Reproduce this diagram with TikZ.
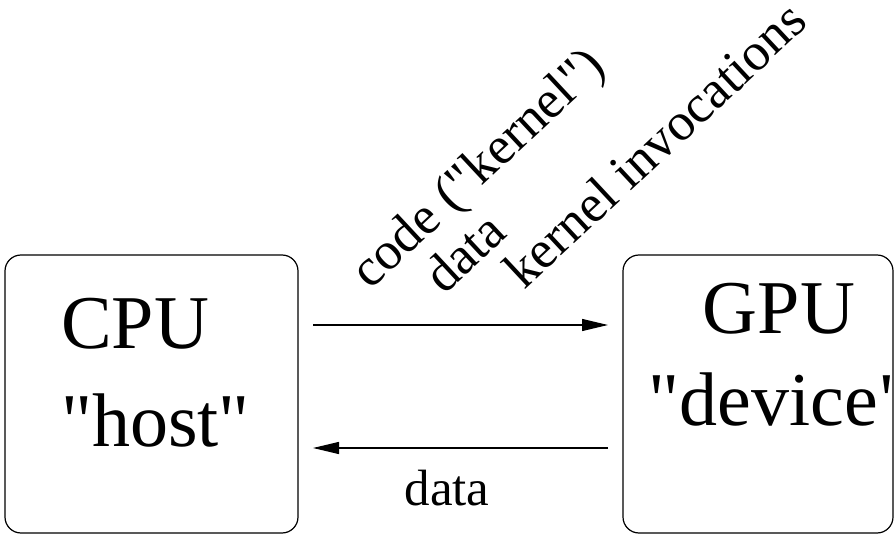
\documentclass[tikz,border=0pt]{standalone}
\usepackage{fontspec}
\setmainfont{Liberation Serif}[Ligatures=TeXOff]
\usetikzlibrary{arrows.meta}

\begin{document}
\begin{tikzpicture}[x=1pt, y=1pt,
    unit/.style={draw, line width=1.2pt, rounded corners=16pt, inner sep=0pt},
    big/.style={font=\fontsize{76}{84}\selectfont, inner sep=0pt},
    small/.style={font=\fontsize{51}{60}\selectfont, inner sep=0pt},
    slanted/.style={font=\fontsize{53}{60}\selectfont, inner sep=0pt, rotate=43, anchor=base west},
    link/.style={line width=1.2pt, -{Triangle[length=26pt, width=12pt]}}]
    \useasboundingbox (0,0) rectangle (894,536);
    \node[unit, minimum width=293pt, minimum height=278pt] (cpu) at (151.5,142) {};
    \node[unit, minimum width=270pt, minimum height=278pt] (gpu) at (758,142) {};
    \node[big, anchor=base west] (cpuname) at (61,188) {CPU};
    \node[big, anchor=base west] (cpurole) at (61,90) {"host"};
    \node[big, anchor=base] (gpuname) at (779,202) {GPU};
    \node[big, anchor=base] (gpurole) at (779,111) {"device"};
    \coordinate (out1) at (313,211);
    \coordinate (out2) at (608,211);
    \coordinate (back1) at (608,88);
    \coordinate (back2) at (313,88);
    \draw[link] (out1) -- (out2);
    \draw[link] (back1) -- (back2);
    \node[small, anchor=base] (backdata) at (447,31) {data};
    \node[slanted] (code) at (370,245) {code ("kernel")};
    \node[slanted] (codedata) at (444,240) {data};
    \node[slanted] (calls) at (524,245) {kernel invocations};
\end{tikzpicture}
\end{document}
